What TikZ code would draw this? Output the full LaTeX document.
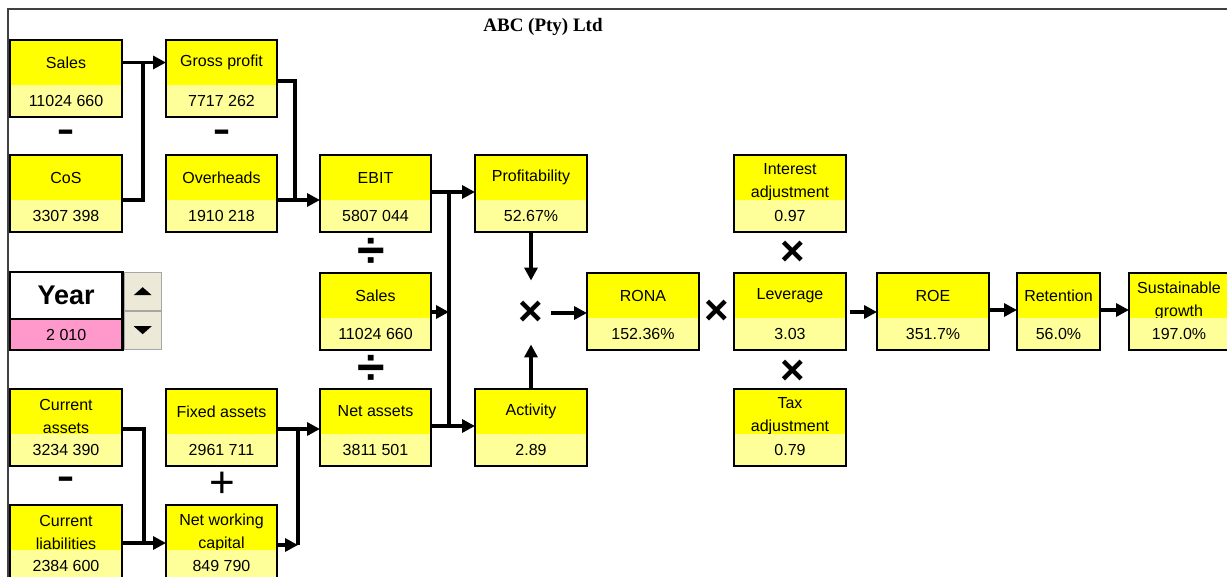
\documentclass[tikz,border=0pt]{standalone}
\usepackage{fontspec}
\setmainfont{Liberation Sans}
\newfontfamily\titlefont{Liberation Serif}
\newfontfamily\opfont{DejaVu Sans}
\usetikzlibrary{arrows.meta}
\usetikzlibrary{positioning}
\definecolor{boxyellow}{HTML}{FFFF00}
\definecolor{boxpale}{HTML}{FFFF99}
\definecolor{yearpink}{HTML}{FF99CC}
\definecolor{btngray}{HTML}{ECE9D8}
\tikzset{
    toppart/.style={anchor=north west, fill=boxyellow, inner sep=0pt, outer sep=0pt, minimum height=45pt},
    labeltext/.style={inner sep=0pt, align=center, font=\fontsize{16}{23}\selectfont},
    valpart/.style={fill=boxpale, inner sep=0pt, outer sep=0pt, minimum height=32pt, font=\fontsize{16}{20}\selectfont},
    boxline/.style={draw=black, line width=2.2pt},
    conn/.style={line width=3.5pt},
    opsym/.style={inner sep=0pt, font=\bfseries\fontsize{#1}{#1}\selectfont},
    opminus/.style={inner sep=0pt, font=\opfont\bfseries\fontsize{#1}{#1}\selectfont},
    opplus/.style={inner sep=0pt, font=\fontsize{#1}{#1}\selectfont},
    spinbtn/.style={anchor=north west, fill=btngray, draw=gray!70, inner sep=0pt, minimum width=37pt, minimum height=38pt},
    frameline/.style={draw=black!75, line width=2pt},
}
% [label shift] name, x, y, width, label, value
\newcommand{\ratiobox}[7][0pt]{%
    \node[toppart, minimum width=#5pt] (#2) at (#3,#4) {};
    \node[labeltext] (#2t) at ([yshift=#1]#2.center) {#6};
    \node[valpart, minimum width=#5pt, below=0pt of #2] (#2v) {#7};
    \draw[boxline] (#2.north west) rectangle (#2v.south east);
}

\begin{document}
\begin{tikzpicture}[x=1pt, y=-1pt, >={Triangle[length=13pt, width=13pt]}]
    \useasboundingbox (0,0) rectangle (1227,577);
    % Frame and title
    \draw[frameline] (8,577) |- (1227,9);
    \node[font=\titlefont\bfseries\fontsize{19}{19}\selectfont] (title) at (543,27) {ABC (Pty) Ltd};

    % Gross profit and EBIT
    \ratiobox{sales}{10}{40}{112}{Sales}{11024 660}
    \ratiobox{cos}{10}{155}{112}{CoS}{3307 398}
    \ratiobox{grossp}{166}{40}{111}{Gross profit}{7717 262}
    \ratiobox{ovh}{166}{155}{111}{Overheads}{1910 218}
    \ratiobox{ebit}{320}{155}{111}{EBIT}{5807 044}
    \node[opminus=34] (minA) at (66,136) {–};
    \node[opminus=34] (minB) at (222,136) {–};

    % Net assets
    \ratiobox[-5pt]{curass}{10}{389}{112}{Current\\assets}{3234 390}
    \ratiobox[-5pt]{curliab}{10}{505}{112}{Current\\liabilities}{2384 600}
    \ratiobox{fixeda}{166}{389}{111}{Fixed assets}{2961 711}
    \ratiobox[-5pt]{nwc}{166}{505}{111}{Net working\\capital}{849 790}
    \ratiobox{neta}{320}{389}{111}{Net assets}{3811 501}
    \ratiobox{salesb}{320}{273}{111}{Sales}{11024 660}
    \node[opminus=34] (minC) at (66,483) {–};
    \node[opplus=44] (plusA) at (222,485) {+};
    \node[opsym=50] (divA) at (371,253) {÷};
    \node[opsym=50] (divB) at (371,370) {÷};

    % Ratios
    \ratiobox{profit}{475}{155}{112}{Profitability}{52.67\%}
    \ratiobox{activ}{475}{389}{112}{Activity}{2.89}
    \ratiobox{rona}{587}{273}{112}{RONA}{152.36\%}
    \ratiobox[-5pt]{intadj}{734}{155}{112}{Interest\\adjustment}{0.97}
    \ratiobox{lever}{734}{273}{112}{Leverage}{3.03}
    \ratiobox[-5pt]{taxadj}{734}{389}{112}{Tax\\adjustment}{0.79}
    \ratiobox{roe}{877}{273}{112}{ROE}{351.7\%}
    \ratiobox{retent}{1017}{273}{83}{Retention}{56.0\%}
    \ratiobox[-5pt]{sgrowth}{1129}{273}{100}{Sustainable\\growth}{197.0\%}
    \node[opsym=42] (mulA) at (531,313) {×};
    \node[opsym=42] (mulB) at (717,312) {×};
    \node[opsym=42] (mulC) at (793,253) {×};
    \node[opsym=42] (mulD) at (793,372) {×};

    % Year selector
    \node[anchor=north west, fill=white, inner sep=0pt, minimum width=112pt, minimum height=47pt, font=\bfseries\fontsize{27}{30}\selectfont] (year) at (10,272) {Year};
    \node[fill=yearpink, inner sep=0pt, minimum width=112pt, minimum height=30pt, font=\fontsize{16}{20}\selectfont, below=0pt of year] (yearv) {2 010};
    \draw[boxline] (year.north west) rectangle (yearv.south east);
    \draw[boxline] (year.south west) -- (year.south east);
    \node[spinbtn] (spinup) at (124,272) {};
    \node[spinbtn] (spindown) at (124,311) {};
    \fill ([shift={(-9pt,-4pt)}]spinup.center) -- ++(18pt,0pt) -- ++(-9pt,8pt) -- cycle;
    \fill ([shift={(-9pt,4pt)}]spindown.center) -- ++(18pt,0pt) -- ++(-9pt,-8pt) -- cycle;

    % Connectors, top rows
    \coordinate (jnA) at ([xshift=21pt]sales.east);
    \draw[conn,->] (sales.east) -- (grossp.west);
    \draw[conn] (cos.south east) -| (jnA);
    \coordinate (jnC) at ([xshift=18pt]ovh.south east);
    \draw[conn] ([yshift=4pt]grossp.south east) -| (jnC);
    \draw[conn,->] (ovh.south east) -- (ebit.south west);

    % Connectors, into profitability and activity
    \coordinate (ebitout) at ([yshift=8pt]ebit.south east);
    \coordinate (busT) at ([xshift=18pt]ebitout);
    \coordinate (netout) at ([yshift=8pt]neta.south east);
    \coordinate (salesout) at ([yshift=6pt]salesb.south east);
    \draw[conn,->] (ebitout) -- (ebitout -| profit.west);
    \draw[conn,->] (netout) -- (netout -| activ.west);
    \draw[conn] (busT) -- (busT |- netout);
    \draw[conn,->] (salesout) -- (salesout -| busT);
    \draw[conn,->] (profitv.south) -- ([yshift=20pt]mulA.north);
    \draw[conn,->] (activ.north) -- ([yshift=-19pt]mulA.south);
    \draw[conn,->] ([xshift=8pt]mulA.east) -- (mulA -| rona.west);

    % Connectors, right side
    \draw[conn,->] ([xshift=4pt,yshift=6pt]lever.south east) -- ([yshift=6pt]roe.south west);
    \draw[conn,->] ([yshift=8pt]roe.south east) -- ([yshift=8pt]retent.south west);
    \draw[conn,->] ([yshift=8pt]retent.south east) -- ([yshift=8pt]sgrowth.south west);

    % Connectors, bottom rows
    \coordinate (caout) at ([yshift=5pt]curass.south east);
    \coordinate (jnD) at ([xshift=22pt,yshift=7pt]curliab.south east);
    \draw[conn] (caout) -| (jnD);
    \draw[conn,->] ([yshift=7pt]curliab.south east) -- ([yshift=7pt]nwc.south west);
    \coordinate (faout) at ([yshift=5pt]fixeda.south east);
    \draw[conn,->] (faout) -- ([yshift=5pt]neta.south west);
    \coordinate (jnE) at ([xshift=21pt,yshift=5pt]nwc.south east);
    \draw[conn,->] ([yshift=5pt]nwc.south east) -- (jnE);
    \draw[conn] (jnE) -- (jnE |- faout);
\end{tikzpicture}
\end{document}
